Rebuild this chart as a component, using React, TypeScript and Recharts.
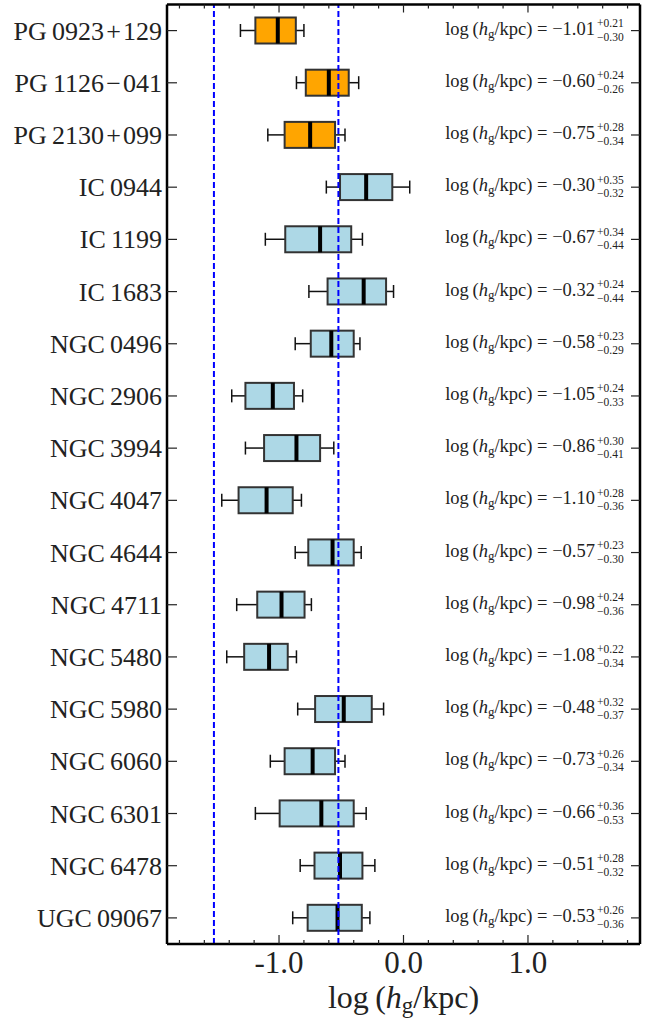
import React from 'react';
import { ComposedChart, Bar, XAxis, YAxis, ReferenceLine } from 'recharts';

const SERIF = '"Liberation Serif", "DejaVu Serif", serif';
const INK = '#222';

const galaxies = [
  'PG\u20090923\u200a+\u200a129',
  'PG\u20091126\u200a\u2212\u200a041',
  'PG\u20092130\u200a+\u200a099',
  'IC\u20090944',
  'IC\u20091199',
  'IC\u20091683',
  'NGC\u20090496',
  'NGC\u20092906',
  'NGC\u20093994',
  'NGC\u20094047',
  'NGC\u20094644',
  'NGC\u20094711',
  'NGC\u20095480',
  'NGC\u20095980',
  'NGC\u20096060',
  'NGC\u20096301',
  'NGC\u20096478',
  'UGC\u200909067',
];

// median of log(h_g/kpc) and its asymmetric errors (whisker ends)
const medians = [-1.01, -0.6, -0.75, -0.3, -0.67, -0.32, -0.58, -1.05, -0.86, -1.1, -0.57, -0.98, -1.08, -0.48, -0.73, -0.66, -0.51, -0.53];
const errPlus = [0.21, 0.24, 0.28, 0.35, 0.34, 0.24, 0.23, 0.24, 0.3, 0.28, 0.23, 0.24, 0.22, 0.32, 0.26, 0.36, 0.28, 0.26];
const errMinus = [0.3, 0.26, 0.34, 0.32, 0.44, 0.44, 0.29, 0.33, 0.41, 0.36, 0.3, 0.36, 0.34, 0.37, 0.34, 0.53, 0.32, 0.36];

// box edges (quartiles)
const boxLow = [-1.19, -0.785, -0.955, -0.51, -0.95, -0.61, -0.745, -1.27, -1.12, -1.325, -0.765, -1.175, -1.28, -0.71, -0.955, -0.995, -0.715, -0.77];
const boxHigh = [-0.865, -0.44, -0.55, -0.09, -0.42, -0.14, -0.4, -0.88, -0.67, -0.89, -0.4, -0.795, -0.93, -0.255, -0.55, -0.4, -0.33, -0.335];

const isQso = [true, true, true, false, false, false, false, false, false, false, false, false, false, false, false, false, false, false];

const xTicks = [-1.8, -1.6, -1.4, -1.2, -1.0, -0.8, -0.6, -0.4, -0.2, 0, 0.2, 0.4, 0.6, 0.8, 1.0, 1.2, 1.4, 1.6, 1.8];
const majorTicks = [-1, 0, 1];
const guideLines = [-1.523, -0.523];

const rows = galaxies.map((name, i) => ({
  name,
  range: [medians[i] - errMinus[i], medians[i] + errPlus[i]],
  median: medians[i],
  q1: boxLow[i],
  q3: boxHigh[i],
  fill: isQso[i] ? '#ffa500' : '#add8e6',
}));

const fmtSigned = (v: number) => (v < 0 ? '\u2212' : '') + Math.abs(v).toFixed(2);

const BoxShape = (props: any) => {
  const { x, y, width, height, payload } = props;
  const [lo, hi] = payload.range;
  const px = (v: number) => x + ((v - lo) / (hi - lo)) * width;
  const cy = y + height / 2;
  const b1 = px(payload.q1);
  const b2 = px(payload.q3);
  const m = px(payload.median);
  const cap = 6.5;
  return (
    <g>
      <line x1={px(lo)} x2={b1} y1={cy} y2={cy} stroke="#111" strokeWidth={1.5} />
      <line x1={b2} x2={px(hi)} y1={cy} y2={cy} stroke="#111" strokeWidth={1.5} />
      <line x1={px(lo)} x2={px(lo)} y1={cy - cap} y2={cy + cap} stroke="#111" strokeWidth={1.5} />
      <line x1={px(hi)} x2={px(hi)} y1={cy - cap} y2={cy + cap} stroke="#111" strokeWidth={1.5} />
      <rect x={b1} y={y} width={b2 - b1} height={height} fill={payload.fill} stroke="#333" strokeWidth={2} />
      <line x1={m} x2={m} y1={y} y2={y + height} stroke="#000" strokeWidth={4} />
    </g>
  );
};

const isMajor = (v: number) => majorTicks.some((t) => Math.abs(t - v) < 1e-6);

const BottomTick = (props: any) => {
  const { x, y, payload } = props;
  const v = payload.value;
  const major = isMajor(v);
  return (
    <g>
      <line x1={x} x2={x} y1={y} y2={y - (major ? 9 : 4)} stroke={INK} strokeWidth={1.2} />
      {major && (
        <text x={x} y={y + 29} textAnchor="middle" fontSize={31} fontFamily={SERIF} fill={INK}>
          {v.toFixed(1)}
        </text>
      )}
    </g>
  );
};

const TopTick = (props: any) => {
  const { x, y, payload } = props;
  const major = isMajor(payload.value);
  return <line x1={x} x2={x} y1={y} y2={y + (major ? 8 : 4)} stroke={INK} strokeWidth={1.2} />;
};

const LeftTick = (props: any) => {
  const { x, y, payload } = props;
  return (
    <g>
      <line x1={x} x2={x + 10} y1={y} y2={y} stroke={INK} strokeWidth={1.2} />
      <text x={x - 5} y={y + 9} textAnchor="end" fontSize={26} fontFamily={SERIF} fill={INK}>
        {payload.value}
      </text>
    </g>
  );
};

const RightTick = (props: any) => {
  const { x, y, payload } = props;
  const i = galaxies.indexOf(payload.value);
  if (i < 0) return null;
  const sx = x - 44;
  return (
    <g fontFamily={SERIF} fill={INK}>
      <line x1={x} x2={x - 9} y1={y} y2={y} stroke={INK} strokeWidth={1.2} />
      <text x={sx - 1} y={y + 4} textAnchor="end" fontSize={18.5}>
        log{'\u2009'}(<tspan fontStyle="italic">h</tspan>
        <tspan fontSize={13} dy={3}>g</tspan>
        <tspan dy={-3}>/kpc) = {fmtSigned(medians[i])}</tspan>
      </text>
      <text x={sx + 1} y={y - 3.5} fontSize={11.5}>+{errPlus[i].toFixed(2)}</text>
      <text x={sx + 1} y={y + 10} fontSize={11.5}>{'\u2212'}{errMinus[i].toFixed(2)}</text>
    </g>
  );
};

const AxisTitle = (props: any) => {
  const vb = props.viewBox;
  return (
    <text x={vb.x + vb.width / 2} y={vb.y + 64} textAnchor="middle" fontSize={32} fontFamily={SERIF} fill={INK}>
      log{'\u2009'}(<tspan fontStyle="italic">h</tspan>
      <tspan fontSize={23} dy={5}>g</tspan>
      <tspan dy={-5}>/kpc)</tspan>
    </text>
  );
};

export default function App() {
  return (
    <div style={{ position: 'absolute', left: 0, top: 0, background: '#fff' }}>
      <ComposedChart
        width={655}
        height={1019}
        data={rows}
        layout="vertical"
        margin={{ top: 3.5, right: 14, bottom: 0, left: 0 }}
      >
        <XAxis
          type="number"
          domain={[-1.9, 1.9]}
          ticks={xTicks}
          interval={0}
          height={75}
          tickSize={0}
          tickMargin={0}
          tickLine={false}
          axisLine={{ stroke: '#000', strokeWidth: 2.5 }}
          tick={<BottomTick />}
          label={<AxisTitle />}
          allowDataOverflow
        />
        <XAxis
          xAxisId="top"
          orientation="top"
          type="number"
          domain={[-1.9, 1.9]}
          ticks={xTicks}
          interval={0}
          height={1}
          tickSize={0}
          tickMargin={0}
          tickLine={false}
          axisLine={{ stroke: '#000', strokeWidth: 2.5 }}
          tick={<TopTick />}
          allowDataOverflow
        />
        <YAxis
          type="category"
          dataKey="name"
          width={167}
          interval={0}
          tickSize={0}
          tickMargin={0}
          tickLine={false}
          axisLine={{ stroke: '#000', strokeWidth: 2.5 }}
          tick={<LeftTick />}
        />
        <YAxis
          yAxisId="right"
          orientation="right"
          type="category"
          dataKey="name"
          allowDuplicatedCategory={false}
          width={1}
          interval={0}
          tickSize={0}
          tickMargin={0}
          tickLine={false}
          axisLine={{ stroke: '#000', strokeWidth: 2.5 }}
          tick={<RightTick />}
        />
        <Bar
          dataKey="range"
          barSize={26}
          isAnimationActive={false}
          shape={(p: any) => <BoxShape {...p} />}
        />
        {guideLines.map((v) => (
          <ReferenceLine key={v} x={v} stroke="#0000ff" strokeWidth={2} strokeDasharray="6 3" />
        ))}
      </ComposedChart>
    </div>
  );
}
